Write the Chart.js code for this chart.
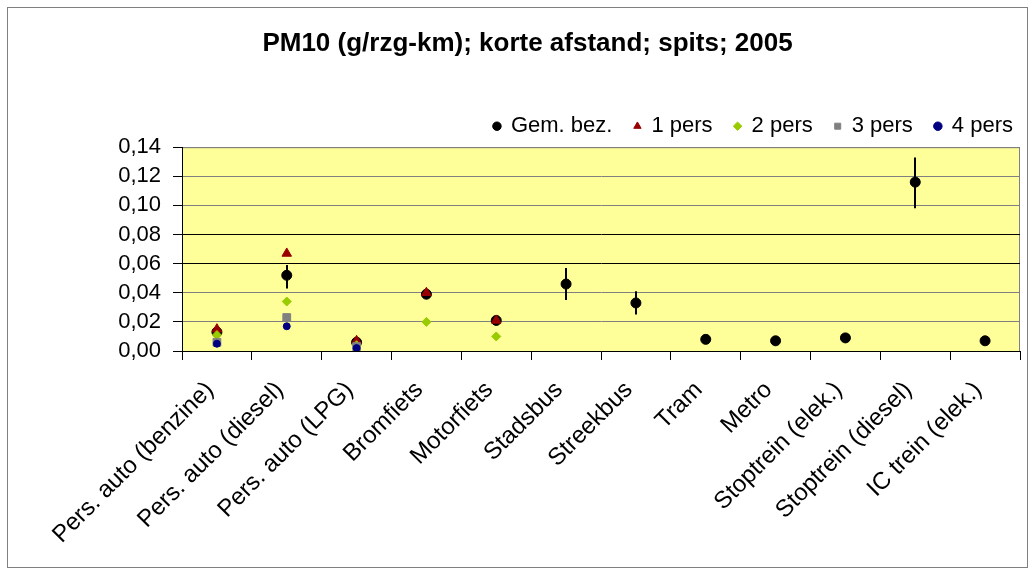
<!DOCTYPE html>
<html>
<head>
<meta charset="utf-8">
<style>
  html, body { margin: 0; padding: 0; background: #fff; }
  #wrap { width: 1035px; height: 576px; }
</style>
<script src="https://cdn.jsdelivr.net/npm/chart.js@4/dist/chart.umd.min.js"></script>
</head>
<body>
<div id="wrap"><canvas id="pmChart" width="1035" height="576"></canvas></div>
<script>
// categories and values
const categories = [
  'Pers. auto (benzine)', 'Pers. auto (diesel)', 'Pers. auto (LPG)', 'Bromfiets',
  'Motorfiets', 'Stadsbus', 'Streekbus', 'Tram', 'Metro',
  'Stoptrein (elek.)', 'Stoptrein (diesel)', 'IC trein (elek.)'
];
const gemBez = [0.013, 0.052, 0.006, 0.039, 0.021, 0.046, 0.033, 0.008, 0.007, 0.009, 0.116, 0.007];
const gemLow = [0.011, 0.043, 0.005, 0.036, 0.019, 0.035, 0.025, 0.005, 0.004, 0.006, 0.098, 0.004];
const gemHigh = [0.015, 0.059, 0.007, 0.041, 0.022, 0.057, 0.041, 0.011, 0.010, 0.012, 0.133, 0.010];
const pers1 = [0.015, 0.067, 0.007, 0.040, 0.021, null, null, null, null, null, null, null];
const pers2 = [0.011, 0.034, 0.004, 0.020, 0.010, null, null, null, null, null, null, null];
const pers3 = [0.006, 0.023, 0.003, null, null, null, null, null, null, null, null, null];
const pers4 = [0.005, 0.017, 0.002, null, null, null, null, null, null, null, null, null];
const yTicks = [0, 0.02, 0.04, 0.06, 0.08, 0.10, 0.12, 0.14];

const FONT = "'Liberation Sans', Arial, sans-serif";

// frame round the whole chart and the yellow plot area
const backgroundPlugin = {
  id: 'background',
  beforeDraw(chart) {
    const { ctx, chartArea } = chart;
    ctx.save();
    ctx.strokeStyle = '#808080';
    ctx.lineWidth = 1;
    ctx.strokeRect(7.5, 7.5, 1020, 560);
    ctx.fillStyle = '#FFFF99';
    ctx.fillRect(chartArea.left, chartArea.top, chartArea.right - chartArea.left, chartArea.bottom - chartArea.top);
    ctx.strokeStyle = '#808080';
    ctx.strokeRect(chartArea.left + 0.5, chartArea.top + 0.5, chartArea.right - chartArea.left - 1, chartArea.bottom - chartArea.top);
    ctx.restore();
  }
};

// vertical error lines on the average series
const errorBarPlugin = {
  id: 'errorBars',
  beforeDatasetsDraw(chart) {
    const { ctx } = chart;
    const x = chart.scales.x;
    const y = chart.scales.y;
    ctx.save();
    ctx.strokeStyle = '#000';
    ctx.lineWidth = 2;
    categories.forEach((cat, i) => {
      const px = Math.round(x.getPixelForValue(i));
      ctx.beginPath();
      ctx.moveTo(px, y.getPixelForValue(gemLow[i]));
      ctx.lineTo(px, y.getPixelForValue(gemHigh[i]));
      ctx.stroke();
    });
    ctx.restore();
  }
};

function series(label, data, style, color, radius, order) {
  return {
    label: label,
    data: data,
    showLine: false,
    pointStyle: style,
    pointRadius: radius,
    pointHoverRadius: radius,
    pointBackgroundColor: color,
    pointBorderColor: color,
    pointBorderWidth: 1,
    backgroundColor: color,
    borderColor: color,
    order: order
  };
}

const ctx = document.getElementById('pmChart').getContext('2d');
new Chart(ctx, {
  type: 'line',
  data: {
    labels: categories,
    datasets: [
      series('Gem. bez.', gemBez, 'circle', '#000000', 5, 5),
      series('1 pers', pers1, 'triangle', '#990000', 5.5, 4),
      series('2 pers', pers2, 'rectRot', '#99CC00', 4.5, 3),
      series('3 pers', pers3, 'rect', '#808080', 5.5, 2),
      series('4 pers', pers4, 'circle', '#000080', 3.5, 1)
    ]
  },
  options: {
    responsive: false,
    animation: false,
    layout: { padding: { left: 20, right: 0, top: 8, bottom: 8 } },
    plugins: {
      title: {
        display: true,
        text: 'PM10 (g/rzg-km); korte afstand; spits; 2005',
        color: '#000',
        font: { family: FONT, size: 26, weight: 'bold' },
        padding: { top: 20, bottom: 34 }
      },
      legend: {
        display: true,
        position: 'top',
        align: 'end',
        labels: {
          color: '#000',
          font: { family: FONT, size: 22 },
          usePointStyle: true,
          boxWidth: 6,
          boxHeight: 6,
          padding: 22,
          sort: (a, b) => a.datasetIndex - b.datasetIndex
        }
      },
      tooltip: { enabled: false }
    },
    scales: {
      x: {
        offset: true,
        grid: {
          offset: true,
          drawOnChartArea: false,
          color: '#000',
          tickLength: 9
        },
        border: { color: '#000' },
        ticks: {
          color: '#000',
          font: { family: FONT, size: 24 },
          minRotation: 45,
          maxRotation: 45,
          autoSkip: false,
          padding: 16,
          labelOffset: -7
        },
        afterFit(scale) { scale.height = 217; }
      },
      y: {
        min: 0,
        max: 0.14,
        afterBuildTicks(scale) { scale.ticks = yTicks.map(v => ({ value: v })); },
        grid: {
          color: c => (c.tick && (c.tick.value === 0.06 || c.tick.value === 0.08)) ? '#000' : '#808080',
          tickColor: '#000',
          tickLength: 9
        },
        border: { color: '#000' },
        ticks: {
          color: '#000',
          font: { family: FONT, size: 22 },
          padding: 12,
          autoSkip: false,
          callback: v => v.toFixed(2).replace('.', ',')
        },
        afterFit(scale) { scale.width = 162; }
      },
      // empty box on the right that keeps the plot off the frame
      yRight: {
        position: 'right',
        display: true,
        grid: { display: false },
        border: { display: false },
        ticks: { display: false },
        afterFit(scale) { scale.width = 15; }
      }
    }
  },
  plugins: [backgroundPlugin, errorBarPlugin]
});
</script>
</body>
</html>
